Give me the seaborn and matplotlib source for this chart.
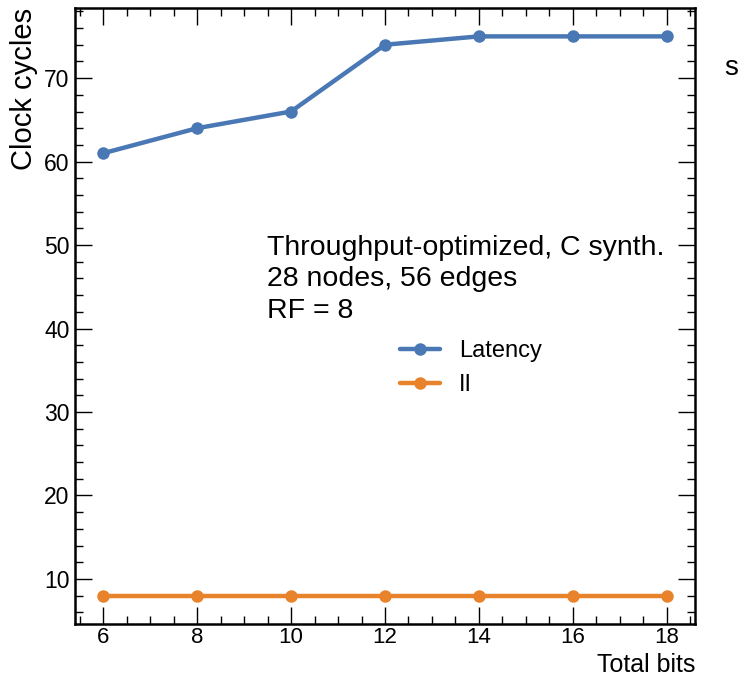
import matplotlib
matplotlib.use("Agg")
import matplotlib.pyplot as plt
from matplotlib.ticker import MultipleLocator, AutoMinorLocator
import seaborn as sns
import pandas as pd

total_bits = [6, 8, 10, 12, 14, 16, 18]
latency = [61, 64, 66, 74, 75, 75, 75]
ii = [8, 8, 8, 8, 8, 8, 8]
series_names = ["Latency", "II"]
colors = ["#4a78b4", "#e8832c"]

df = pd.DataFrame({
    "Total bits": total_bits * 2,
    "Clock cycles": latency + ii,
    "series": [series_names[0]] * len(total_bits) + [series_names[1]] * len(total_bits),
})

sns.set_style("ticks")
plt.rcParams['font.family'] = ['Liberation Sans', 'DejaVu Sans']
plt.rcParams['text.color'] = 'black'
plt.rcParams['axes.labelcolor'] = 'black'
plt.rcParams['xtick.color'] = 'black'
plt.rcParams['ytick.color'] = 'black'

fig = plt.figure(figsize=(7.44, 6.81), dpi=100)
ax = fig.add_axes([75/744, 1 - 624/681, 620/744, 616/681])

sns.lineplot(data=df, x="Total bits", y="Clock cycles", hue="series",
             palette=colors, marker="o", markersize=9, linewidth=3.2,
             markeredgewidth=0, ax=ax)

ax.set_xlim(5.4, 18.6)
ax.set_ylim(4.6, 78.4)
ax.xaxis.set_major_locator(MultipleLocator(2))
ax.xaxis.set_minor_locator(AutoMinorLocator(4))
ax.yaxis.set_major_locator(MultipleLocator(10))
ax.yaxis.set_minor_locator(AutoMinorLocator(5))
ax.tick_params(which="both", direction="in", top=True, right=True,
               width=1.0, colors="black")
ax.tick_params(which="major", length=12)
ax.tick_params(which="minor", length=6)
ax.tick_params(axis="x", which="major", pad=2.5, labelsize=16)
ax.tick_params(axis="y", which="major", pad=4, labelsize=16.5)
for s in ax.spines.values():
    s.set_linewidth(1.8)
    s.set_color("black")

ax.set_xlabel("Total bits", fontsize=18, ha="right", va="top")
ax.xaxis.set_label_coords(1.0, -0.0471)
ax.set_ylabel("Clock cycles", fontsize=21, loc="top", labelpad=4)

ax.text(0.31, 0.632, "Throughput-optimized, C synth.\n28 nodes, 56 edges\nRF = 8",
        transform=ax.transAxes, fontsize=20.5, va="top", ha="left",
        linespacing=1.28)

leg = ax.legend(loc="upper left", bbox_to_anchor=(0.49, 0.495), frameon=False,
                fontsize=17, handlelength=1.7, labelspacing=0.5,
                handletextpad=0.8)

fig.text(731/744, 1 - 68/681, "s", fontsize=20, ha="center", va="center")

fig.savefig("out.png", dpi=100)
